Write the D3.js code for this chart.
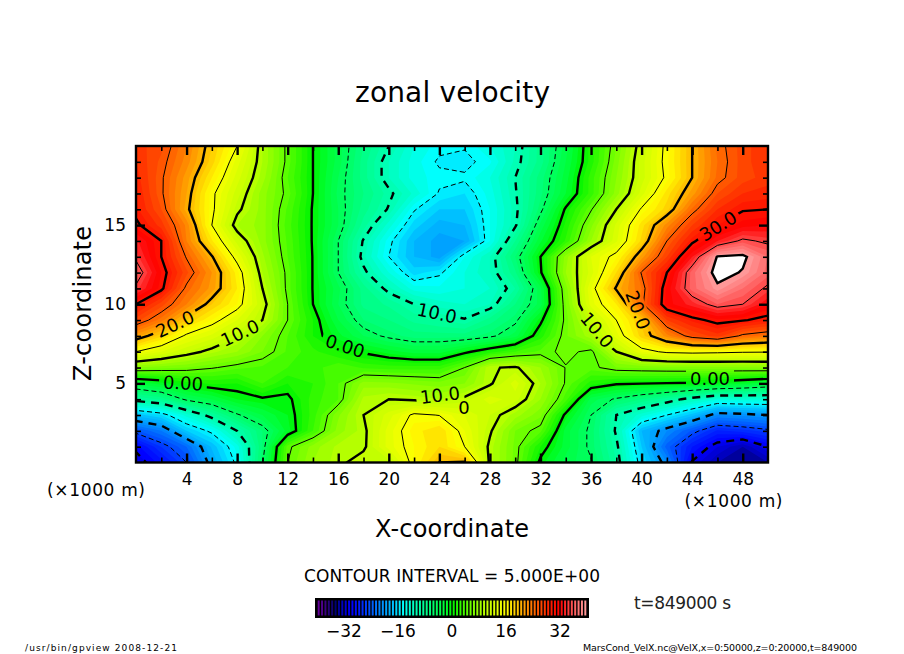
<!DOCTYPE html>
<html>
<head>
<meta charset="utf-8">
<script src="https://d3js.org/d3.v7.min.js"></script>
<style>
html, body { margin: 0; padding: 0; background: #fff; }
svg { display: block; }
text { font-family: "DejaVu Sans", sans-serif; fill: #000; }
</style>
</head>
<body>
<svg id="chart" width="904" height="654"></svg>
<script>
// grid: x = 0,2,..50 (km), rows from z = 20 down to z = 0 (km)
const xGrid = d3.range(26).map(i => i * 2);
const zGrid = d3.range(21).map(i => 20 - i);
const velocity = [
  [27.5,26.3,23,19,15,9,4.5,0,-3.5,-7,-10,-13,-14.5,-14.8,-13,-11,-7.5,-3.5,1.5,6,11,15.7,20,24.3,26.5,28],
  [28,25.7,22.5,18.5,13.5,9,4.5,0,-3.5,-7.5,-11,-13.5,-15.3,-15.6,-14.2,-10.7,-7.5,-3,1.5,6.5,11.5,15.8,20,24,26.5,28],
  [28.5,25.3,21.5,17,12.5,8.5,4,0,-4,-7.5,-11,-13.5,-14.5,-14.7,-13,-10,-6.5,-2.5,2.5,7,11.5,15.5,20,24.3,26.5,27.5],
  [29,25.3,21,15.5,11.5,7.5,4.5,0,-4.3,-7,-9.5,-12.3,-15.2,-16,-13.5,-10.2,-6.3,-2,2.5,7.5,12.5,17.5,21.5,26,28,28.5],
  [29.3,26,20.5,15.5,10.5,7.5,3.8,-0.2,-4,-7.5,-10.2,-14.8,-17,-17,-14,-10.5,-5.5,0.3,4.8,10,15.3,18.5,24.2,28,29.8,30],
  [30.5,27.5,22.7,15,9,7.5,3.5,-0.2,-4,-8.5,-12.5,-16.5,-18.5,-18,-14,-10.3,-3.7,1.3,6.7,12.3,17.5,22.5,27,30,31.5,32],
  [33.3,30,23,17.2,11.5,7.5,3.8,-0.2,-5,-10.2,-14.5,-18,-19.5,-19,-14,-8,-2.2,2.2,8,12.8,18.3,25,29.5,33,35.5,34.5],
  [34.5,30,24.8,20.2,14,8.3,4,-0.1,-5,-10.7,-15,-18,-19.5,-14,-11,-6,0,7.5,13,15.8,21.5,27,33,40.2,40.6,37],
  [36.5,31,26.3,22,16.5,9,4.5,-0.1,-5,-9.5,-13,-16.5,-15.3,-13,-11,-7.2,-0.3,8,12.5,18,25.2,30,36.5,41,39.8,36.5],
  [34.5,30.5,24.5,21.6,17,10,4.5,-0.1,-3.7,-7.5,-10.7,-13.5,-13.8,-13,-12,-9,-3.3,6.5,14,20.3,24,31.3,36.5,39.5,37,34.5],
  [30,26.5,23,19,16,11,5,0,-4,-7.3,-8.2,-10,-11.5,-12,-11,-7,-3.5,6,13.5,17,24.5,31.5,33.5,36,35,32],
  [26.5,23.5,19,16,13,10,5,1,-3,-6,-7,-8.3,-9,-9.8,-7.5,-5.5,-0.5,5.5,10.7,15,19.3,27,29.3,30.7,30.2,29.2],
  [21.5,18.3,14.5,12.7,10.2,7,4,1,-1.6,-4,-5.5,-6.5,-6.5,-6.5,-5.5,-3.5,1.5,5.8,8.7,13.5,18.5,22.5,26,27.5,24.5,23.5],
  [15,13,11,9.3,8,6,3.8,2.3,1,-0.3,-1.5,-2.5,-2.5,-0.5,1.5,3,4.3,5.5,4.5,10,14,15.5,15.8,15.6,15.3,15.2],
  [7,6.5,6,5.2,4.3,3.8,3,2.5,3.8,2.8,2.5,2.5,2.5,5,9.8,10.3,8,4.9,4.5,6,6.3,6.5,6.6,6.7,6.8,7],
  [-2.8,-1.5,0.5,1.2,1,3,1,2,4,7.5,7.3,6.8,6.4,7,9.7,12.5,9,4.8,1.5,0.3,0.1,-0.1,-0.3,-1,-1.8,-2.8],
  [-9,-7.8,-4.5,-3,-1,-0.3,-0.5,2.5,4,9.3,10,9.6,9,10.5,12.5,11.5,8,3.5,-3.5,-5.3,-7,-8.7,-11,-12.8,-12.5,-12.5],
  [-17.5,-16,-12.5,-9,-5.3,-3,-1,2.5,6.8,10,12.5,15.5,14.9,13,11,8.5,6.3,-0.5,-5,-10,-12.5,-15,-17.5,-21,-20.6,-20],
  [-24.2,-22,-17,-14.5,-10,-6,-1.5,3,7.5,9.5,13.5,16.5,18,14,10.3,6,4.3,-2.5,-5.5,-10.3,-18,-21,-24.2,-27.2,-26.5,-25.5],
  [-29.5,-26,-23,-17.8,-13.5,-6,4.5,7.5,9.3,9.6,13.5,16,18,15,9.5,5.7,1,-2.5,-5.5,-9.5,-17,-23.5,-28,-31,-33,-30],
  [-31,-28.5,-25,-19,-14.5,-5.2,5,8,9.5,11,10.5,16,20,20.3,9.5,5.6,-0.5,-3.5,-4.8,-9,-16,-21,-30.2,-33,-34,-33]
];
const xTicks = d3.range(4, 50, 4);
const xMinor = d3.range(2, 50, 4);
const zTicks = [5, 10, 15];
const zMinor = d3.range(1, 20).filter(d => d % 5 != 0);
const barTicks = [-32, -16, 0, 16, 32];
const fillLevels = d3.range(-40, 41);
const lineLevels = d3.range(-35, 41, 5);
const colorVals = [-40, -37.6, -34.7, -32.6, -29.6, -26.7, -21.6, -17.6, -14.6, -11.8, -7, -2, 0, 5, 10, 16, 19.7, 24, 29, 32, 34.5, 37, 40];
const colorHex = ["#6e00a0", "#3c0082", "#00006e", "#0000be", "#0000ff", "#0028ff", "#0082ff", "#00beff", "#00ffff", "#00ffc8", "#00ff82", "#00ff32", "#00f500", "#64ff00", "#beff00", "#ffff00", "#ffbe00", "#ff6e00", "#ff1e00", "#ff0000", "#ff3c3c", "#ff6e6e", "#ffa0a0"];

const color = d3.scaleLinear().domain(colorVals).range(colorHex);
const x = d3.scaleLinear().domain([0, 50]).range([136, 768]);
const y = d3.scaleLinear().domain([0, 20]).range([462.5, 146]);
const barX = d3.scaleLinear().domain([-40, 40]).range([317, 587]);

const svg = d3.select("#chart");

const flat = velocity.flat();
const contours = d3.contours().size([xGrid.length, zGrid.length]);

// contour coords have the grid nodes at i + 0.5
const path = d3.geoPath(d3.geoTransform({
  point(cx, cy) {
    this.stream.point(x((cx - 0.5) * 2), y(20 - (cy - 0.5)));
  }
}));

const defs = svg.append("defs");
defs.append("clipPath").attr("id", "plotClip")
  .append("rect")
  .attr("x", x(0)).attr("y", y(20))
  .attr("width", x(50) - x(0)).attr("height", y(0) - y(20));

// contour labels, gaps are cut in the lines with a mask
const labelPlaces = [
  {t: "20.0", px: 175, py: 324, r: -25},
  {t: "10.0", px: 240, py: 333, r: -25},
  {t: "0.00", px: 183, py: 383, r: 3},
  {t: "0.00", px: 345, py: 346, r: 18},
  {t: "10.0", px: 437, py: 313, r: 12},
  {t: "10.0", px: 440, py: 395, r: -7},
  {t: "0", px: 464, py: 408, r: 0},
  {t: "30.0", px: 718, py: 226, r: -32},
  {t: "20.0", px: 638, py: 310, r: 70},
  {t: "10.0", px: 597, py: 330, r: 50},
  {t: "0.00", px: 710, py: 379, r: 0}
];

const mask = defs.append("mask").attr("id", "labelMask").attr("maskUnits", "userSpaceOnUse")
  .attr("x", 0).attr("y", 0).attr("width", 904).attr("height", 654);
mask.append("rect").attr("width", 904).attr("height", 654).attr("fill", "#fff");
mask.selectAll("rect.gap")
  .data(labelPlaces.filter(d => d.t != "0"))
  .enter().append("rect")
  .attr("class", "gap")
  .attr("x", -24).attr("y", -9).attr("width", 48).attr("height", 18)
  .attr("transform", d => `translate(${d.px},${d.py}) rotate(${d.r})`)
  .attr("fill", "#000");

const plot = svg.append("g").attr("clip-path", "url(#plotClip)");

plot.append("rect")
  .attr("x", x(0)).attr("y", y(20))
  .attr("width", x(50) - x(0)).attr("height", y(0) - y(20))
  .attr("fill", color(-40));

// filled bands, one unit wide
plot.selectAll("path.band")
  .data(fillLevels)
  .enter().append("path")
  .attr("class", "band")
  .attr("d", d => path(contours.contour(flat, d)))
  .attr("fill", d => d >= 40 ? "#fff" : color(d + 0.5));

// contour lines
const lines = plot.append("g").attr("mask", "url(#labelMask)");
lines.selectAll("path")
  .data(lineLevels)
  .enter().append("path")
  .attr("d", d => path(contours.contour(flat, d)))
  .attr("fill", "none")
  .attr("stroke", "#000")
  .attr("stroke-width", d => d % 10 == 0 ? 2.4 : 1)
  .attr("stroke-dasharray", d => d < 0 ? (d % 10 == 0 ? "8 6" : "5 3") : null);

svg.append("g").selectAll("text")
  .data(labelPlaces)
  .enter().append("text")
  .attr("transform", d => `translate(${d.px},${d.py}) rotate(${d.r})`)
  .attr("text-anchor", "middle")
  .attr("dy", "0.36em")
  .style("font-size", "18px")
  .text(d => d.t);

// ticks on all four sides
function ticks(axis, minor, major, tx, ty, fmt) {
  const m = svg.append("g").attr("transform", `translate(${tx},${ty})`)
    .call(axis.tickValues(minor).tickSize(-5).tickFormat(""));
  m.select(".domain").remove();
  m.selectAll("line").attr("stroke-width", 1.6);
  const g = svg.append("g").attr("transform", `translate(${tx},${ty})`)
    .call(axis.tickValues(major).tickSize(-9).tickPadding(10).tickFormat(fmt));
  g.select(".domain").remove();
  g.selectAll("line").attr("stroke-width", 2.4);
  g.selectAll("text").style("font-size", "17px");
}
ticks(d3.axisBottom(x), xMinor, xTicks, 0, y(0), d => d);
ticks(d3.axisTop(x), xMinor, xTicks, 0, y(20), "");
ticks(d3.axisLeft(y), zMinor, zTicks, x(0), 0, d => d);
ticks(d3.axisRight(y), zMinor, zTicks, x(50), 0, "");

svg.append("rect")
  .attr("x", x(0)).attr("y", y(20))
  .attr("width", x(50) - x(0)).attr("height", y(0) - y(20))
  .attr("fill", "none").attr("stroke", "#000").attr("stroke-width", 2.4);

// titles
function label(t, px, py, size, len, rot) {
  const e = svg.append("text")
    .attr("transform", `translate(${px},${py})` + (rot ? ` rotate(${rot})` : ""))
    .attr("text-anchor", "middle")
    .style("font-size", size + "px")
    .text(t);
  if (len) e.attr("textLength", len).attr("lengthAdjust", "spacing");
  return e;
}
label("zonal velocity", 452.5, 102, 28, 195);
label("Z-coordinate", 91, 303.5, 24, 155, -90);
label("X-coordinate", 452, 537, 24, 154);
label("(×1000 m)", 96, 496, 17, 98);
label("(×1000 m)", 733.5, 507, 17, 98);
label("CONTOUR INTERVAL = 5.000E+00", 452, 582, 17, 296);
label("t=849000 s", 682.5, 609, 17, 97).style("fill", "#222");
label("/usr/bin/gpview   2008-12-21", 101, 651, 9, 152);
label("MarsCond_VelX.nc@VelX,x=0:50000,z=0:20000,t=849000", 720, 651, 9.5, 274);

// colour bar
const bar = svg.append("g");
bar.append("rect")
  .attr("x", 315).attr("y", 598)
  .attr("width", 274).attr("height", 20)
  .attr("fill", "#000");
bar.selectAll("rect.cell")
  .data(fillLevels.slice(0, -1))
  .enter().append("rect")
  .attr("class", "cell")
  .attr("x", d => barX(d) + 0.7)
  .attr("y", 600.5)
  .attr("width", barX(1) - barX(0) - 1.4)
  .attr("height", 15)
  .attr("fill", d => color(d + 0.5));
bar.selectAll("text")
  .data(barTicks)
  .enter().append("text")
  .attr("x", d => barX(d))
  .attr("y", 637)
  .attr("text-anchor", "middle")
  .style("font-size", "17px")
  .text(d => d < 0 ? "\u2212" + (-d) : d);
</script>
</body>
</html>
